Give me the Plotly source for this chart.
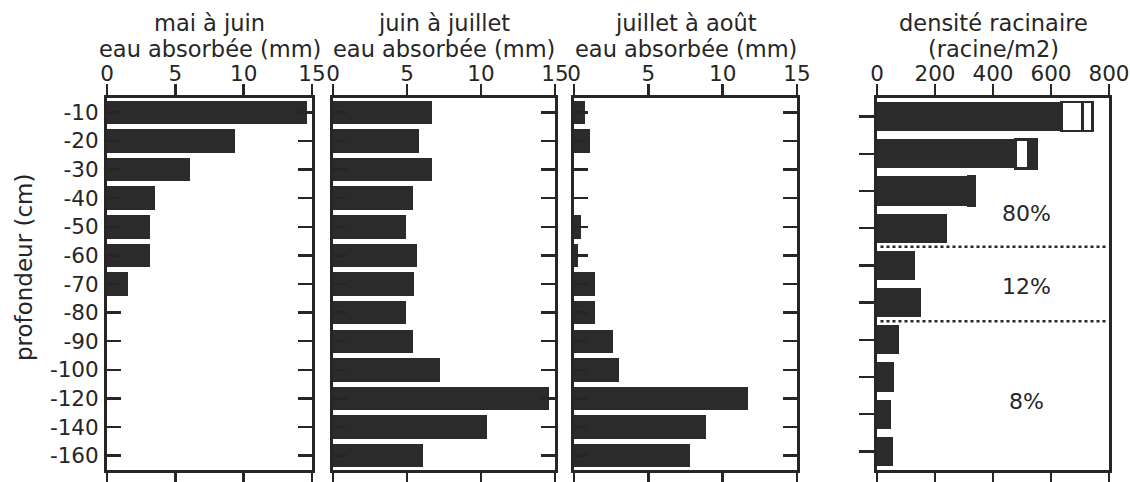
import plotly.graph_objects as go

# ---------------- data ----------------
profondeurs = ["-10", "-20", "-30", "-40", "-50", "-60", "-70", "-80", "-90",
               "-100", "-120", "-140", "-160"]
mai_juin = [14.6, 9.4, 6.1, 3.5, 3.15, 3.15, 1.55, 0, 0, 0, 0, 0, 0]
juin_juillet = [6.7, 5.8, 6.7, 5.4, 4.9, 5.7, 5.5, 4.9, 5.4, 7.2, 14.6, 10.4, 6.1]
juillet_aout = [0.75, 1.1, 0, 0, 0.5, 0.3, 1.4, 1.4, 2.6, 3.05, 11.7, 8.9, 7.8]

couches = ["c1", "c2", "c3", "c4", "c5", "c6", "c7", "c8", "c9", "c10"]
densite_noire = [637, 478, 313, 238, 128, 146, 70, 53, 43, 51]
densite_blanche = [72, 44, 7, 0, 0, 0, 0, 0, 0, 0]
densite_fin = [34, 29, 18, 0, 0, 0, 0, 0, 0, 0]

zones_labels = ["80%", "12%", "8%"]
zones_tailles = [4, 2, 4]

ticks_eau = [0, 5, 10, 15]
ticks_densite = [0, 200, 400, 600, 800]

titres_l1 = ["mai à juin", "juin à juillet", "juillet à août", "densité racinaire"]
titres_l2 = ["eau absorbée (mm)", "eau absorbée (mm)", "eau absorbée (mm)", "(racine/m2)"]
titre_y = "profondeur (cm)"

# ---------------- style ----------------
W, H = 1130, 482
INK = "#262626"
BAR = "#2b2b2b"
FONT = "DejaVu Sans"
TOP, BOT = 98, 470
panels_px = [(107, 312), (333, 555), (574, 797), (877, 1109)]


def px_x(v):
    return v / W


def px_y(v):
    return 1 - v / H


fig = go.Figure()

series = [mai_juin, juin_juillet, juillet_aout]
for i, vals in enumerate(series):
    n = "" if i == 0 else str(i + 1)
    fig.add_trace(go.Bar(x=vals, y=profondeurs, orientation="h",
                         marker=dict(color=BAR, line=dict(width=0)),
                         width=0.82, xaxis="x" + n, yaxis="y" + n,
                         showlegend=False))

fin_colors = ["white"] + [BAR] * (len(couches) - 1)
fig.add_trace(go.Bar(x=densite_noire, y=couches, orientation="h",
                     marker=dict(color=BAR, line=dict(width=0)),
                     width=0.78, xaxis="x4", yaxis="y4", showlegend=False))
fig.add_trace(go.Bar(x=densite_blanche, y=couches, orientation="h",
                     marker=dict(color="white", line=dict(width=2.5, color=BAR)),
                     width=0.78, xaxis="x4", yaxis="y4", showlegend=False))
fig.add_trace(go.Bar(x=densite_fin, y=couches, orientation="h",
                     marker=dict(color=fin_colors, line=dict(width=2.5, color=BAR)),
                     width=0.78, xaxis="x4", yaxis="y4", showlegend=False))

ydom = [px_y(BOT), px_y(TOP)]
layout = dict(
    width=W, height=H, margin=dict(l=0, r=0, t=0, b=0),
    paper_bgcolor="white", plot_bgcolor="white",
    barmode="stack", bargap=0.18,
    font=dict(family=FONT, color=INK, size=21),
    template="none",
)

for i, (x0, x1) in enumerate(panels_px):
    n = "" if i == 0 else str(i + 1)
    dens = i == 3
    layout["xaxis" + n] = dict(
        domain=[px_x(x0), px_x(x1)], anchor="y" + n, side="top",
        range=[0, 800] if dens else [0, 15],
        tickvals=ticks_densite if dens else ticks_eau,
        ticks="outside", ticklen=11, tickwidth=2.5, tickcolor=INK,
        showline=True, linewidth=3, linecolor=INK, mirror="ticks",
        showgrid=False, zeroline=False, automargin=False,
        ticklabelstandoff=-6,
        tickfont=dict(size=21.5, color=INK), fixedrange=True,
    )
    ncat = len(couches) if dens else len(profondeurs)
    layout["yaxis" + n] = dict(
        domain=ydom, anchor="x" + n, type="category",
        range=[ncat - 0.5, -0.5],
        ticks="outside" if dens else "inside",
        ticklen=15 if dens else 14, tickwidth=2.5, tickcolor=INK,
        showline=True, linewidth=3, linecolor=INK,
        mirror=True if dens else "ticks",
        showgrid=False, zeroline=False, automargin=False,
        showticklabels=(i == 0), ticklabelstandoff=1,
        tickfont=dict(size=21.5, color=INK), fixedrange=True,
    )

annotations = []
for i, (x0, x1) in enumerate(panels_px):
    cx = px_x((x0 + x1) / 2)
    annotations.append(dict(text=titres_l1[i], x=cx, y=px_y(23), xref="paper",
                            yref="paper", showarrow=False, xanchor="center",
                            yanchor="middle", font=dict(size=22.5)))
    annotations.append(dict(text=titres_l2[i], x=cx, y=px_y(49), xref="paper",
                            yref="paper", showarrow=False, xanchor="center",
                            yanchor="middle", font=dict(size=22.5)))

annotations.append(dict(text=titre_y, x=px_x(24), y=px_y(268), xref="paper",
                        yref="paper", showarrow=False, textangle=-90,
                        xanchor="center", yanchor="middle", font=dict(size=23)))

# zone separators and percentages in the density panel
shapes = []
label_pos = [2.6, 4.57, 7.67]
start = 0
for k, (lab, size) in enumerate(zip(zones_labels, zones_tailles)):
    end = start + size
    if k < len(zones_labels) - 1:
        shapes.append(dict(type="line", xref="x4 domain", yref="y4",
                           x0=0.015, x1=0.985, y0=end - 0.5, y1=end - 0.5,
                           line=dict(color=INK, width=2.5, dash="dot")))
    annotations.append(dict(text=lab, x=515, y=label_pos[k], xref="x4", yref="y4",
                            showarrow=False, xanchor="center", yanchor="middle",
                            font=dict(size=22)))
    start = end

layout["annotations"] = annotations
layout["shapes"] = shapes
fig.update_layout(**layout)
fig.write_html("out.html",
               config={"displayModeBar": False, "staticPlot": True},
               post_script="document.body.style.margin='0';"
                           "document.body.style.overflow='hidden';")
